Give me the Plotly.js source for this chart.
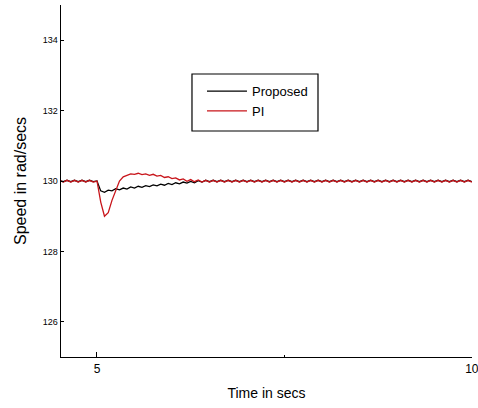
<!DOCTYPE html>
<html>
<head>
<meta charset="utf-8">
<script src="https://cdn.plot.ly/plotly-3.0.1.min.js"></script>
<style>html,body{margin:0;padding:0;background:#fff;}#chart{width:478px;height:408px;}</style>
</head>
<body>
<div id="chart"></div>
<script>
// Time samples (s)
var time = [4.50,4.55,4.60,4.65,4.70,4.75,4.80,4.85,4.90,4.95,
5.00,5.05,5.10,5.15,5.20,5.25,5.30,5.35,5.40,5.45,
5.50,5.55,5.60,5.65,5.70,5.75,5.80,5.85,5.90,5.95,
6.00,6.05,6.10,6.15,6.20,6.25,6.30,6.35,6.40,6.45,
6.50,6.55,6.60,6.65,6.70,6.75,6.80,6.85,6.90,6.95,
7.00,7.05,7.10,7.15,7.20,7.25,7.30,7.35,7.40,7.45,
7.50,7.55,7.60,7.65,7.70,7.75,7.80,7.85,7.90,7.95,
8.00,8.05,8.10,8.15,8.20,8.25,8.30,8.35,8.40,8.45,
8.50,8.55,8.60,8.65,8.70,8.75,8.80,8.85,8.90,8.95,
9.00,9.05,9.10,9.15,9.20,9.25,9.30,9.35,9.40,9.45,
9.50,9.55,9.60,9.65,9.70,9.75,9.80,9.85,9.90,9.95,10.00];

// Proposed controller speed (rad/s)
var proposed = [130.02,129.98,130.02,129.98,130.02,129.98,130.02,129.98,130.02,129.98,
130.00,129.72,129.68,129.74,129.72,129.78,129.75,129.80,129.77,129.83,
129.80,129.85,129.82,129.87,129.84,129.89,129.86,129.91,129.88,129.93,
129.90,129.95,129.92,129.97,129.94,129.99,129.95,130.01,129.97,130.02,
129.98,130.02,129.98,130.02,129.98,130.02,129.98,130.02,129.98,130.02,
129.98,130.02,129.98,130.02,129.98,130.02,129.98,130.02,129.98,130.02,
129.98,130.02,129.98,130.02,129.98,130.02,129.98,130.02,129.98,130.02,
129.98,130.02,129.98,130.02,129.98,130.02,129.98,130.02,129.98,130.02,
129.98,130.02,129.98,130.02,129.98,130.02,129.98,130.02,129.98,130.02,
129.98,130.02,129.98,130.02,129.98,130.02,129.98,130.02,129.98,130.02,
129.98,130.02,129.98,130.02,129.98,130.02,129.98,130.02,129.98,130.02,129.98];

// PI controller speed (rad/s)
var pi = [130.02,129.97,130.02,129.97,130.02,129.97,130.02,129.97,130.02,129.97,
130.00,129.40,129.00,129.10,129.45,129.75,130.00,130.12,130.17,130.20,
130.19,130.22,130.18,130.20,130.16,130.19,130.14,130.16,130.10,130.12,
130.07,130.09,130.03,130.06,129.99,130.04,129.98,130.03,129.97,130.02,
129.97,130.02,129.97,130.02,129.97,130.02,129.97,130.02,129.97,130.02,
129.97,130.02,129.97,130.02,129.97,130.02,129.97,130.02,129.97,130.02,
129.97,130.02,129.97,130.02,129.97,130.02,129.97,130.02,129.97,130.02,
129.97,130.02,129.97,130.02,129.97,130.02,129.97,130.02,129.97,130.02,
129.97,130.02,129.97,130.02,129.97,130.02,129.97,130.02,129.97,130.02,
129.97,130.02,129.97,130.02,129.97,130.02,129.97,130.02,129.97,130.02,
129.97,130.02,129.97,130.02,129.97,130.02,129.97,130.02,129.97,130.02,129.97];

var xTickVals = [5, 10];
var xTickText = ["5", "10"];
var xMinorTicks = [7.5];
var yTickVals = [126, 128, 130, 132, 134];
var yTickText = ["126", "128", "130", "132", "134"];

var sans = "'Liberation Sans', Arial, sans-serif";

var traces = [
  {x: time, y: proposed, type: "scatter", mode: "lines", name: "Proposed",
   line: {color: "#000000", width: 1.3}},
  {x: time, y: pi, type: "scatter", mode: "lines", name: "PI",
   line: {color: "#c8141a", width: 1.3}}
];

var layout = {
  width: 478, height: 408,
  margin: {l: 61, r: 6, t: 5, b: 51},
  paper_bgcolor: "#ffffff", plot_bgcolor: "#ffffff",
  showlegend: true,
  legend: {x: 0.343, y: 0.798, xanchor: "left", yanchor: "top",
    borderwidth: 0, bgcolor: "rgba(0,0,0,0)",
    font: {family: sans, size: 13, color: "#000"}, itemwidth: 40,
    tracegroupgap: 0},
  shapes: [{type: "rect", xref: "paper", yref: "paper",
    x0: 0.3187, x1: 0.6253, y0: 0.642, y1: 0.804,
    line: {color: "#000", width: 1.2}, fillcolor: "rgba(0,0,0,0)", layer: "above"}],
  xaxis: {range: [4.52, 10.002], showline: true, linecolor: "#000", linewidth: 1.3,
    ticks: "inside", ticklen: 5, tickcolor: "#000", tickvals: xTickVals, ticktext: xTickText,
    ticklabeloverflow: "allow",
    minor: {tickvals: xMinorTicks, ticks: "inside", ticklen: 2, tickcolor: "#000", showgrid: false},
    showgrid: false, zeroline: false,
    tickfont: {family: sans, size: 12, color: "#000"},
    title: {text: "Time in secs", font: {family: sans, size: 14, color: "#000"}, standoff: 13}},
  yaxis: {range: [125, 135], showline: true, linecolor: "#000", linewidth: 1.3,
    ticks: "inside", ticklen: 3, tickcolor: "#000", tickvals: yTickVals, ticktext: yTickText,
    showgrid: false, zeroline: false,
    tickfont: {family: sans, size: 9, color: "#000"},
    title: {text: "Speed in rad/secs", font: {family: sans, size: 16, color: "#000"}, standoff: 12}}
};

Plotly.newPlot("chart", traces, layout, {displayModeBar: false, staticPlot: true});
</script>
</body>
</html>
